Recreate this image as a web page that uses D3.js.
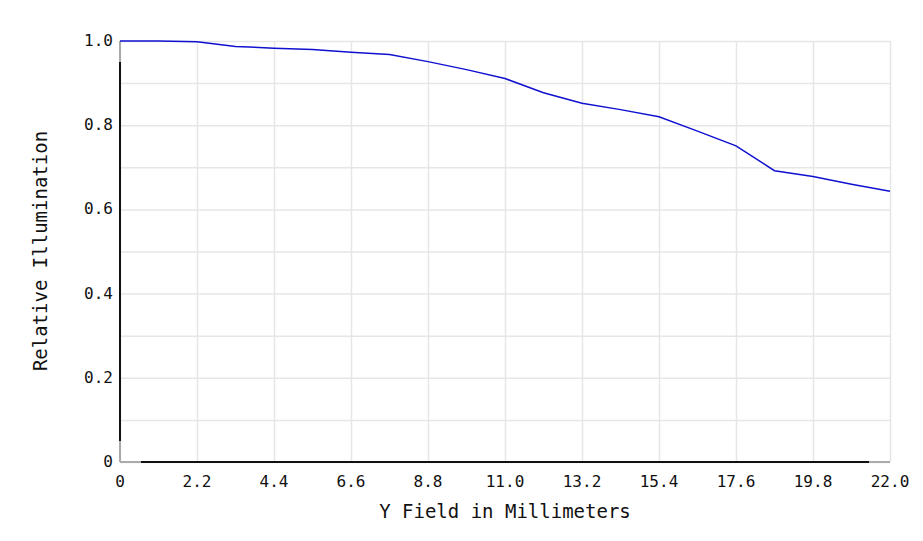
<!DOCTYPE html>
<html>
<head>
<meta charset="utf-8">
<title>Relative Illumination</title>
<script src="https://cdn.jsdelivr.net/npm/d3@7/dist/d3.min.js"></script>
<style>
  body { margin: 0; background: #fff; }
  svg text { font-family: "DejaVu Sans Mono", "Liberation Mono", monospace; fill: #111; }
  .grid line { stroke: #e6e6e6; stroke-width: 1.5; }
  .grid path { display: none; }
</style>
</head>
<body>
<svg width="923" height="541"></svg>
<script>
// field positions (mm) and relative illumination
var field = [0, 1.1, 2.2, 3.3, 4.4, 5.5, 6.6, 7.7, 8.8, 9.9, 11.0,
             12.1, 13.2, 14.3, 15.4, 16.5, 17.6, 18.7, 19.8, 20.9, 22.0];
var illum = [1.0, 1.0, 0.998, 0.987, 0.983, 0.980, 0.973, 0.968, 0.951, 0.932, 0.911,
             0.877, 0.852, 0.837, 0.820, 0.786, 0.751, 0.692, 0.678, 0.660, 0.643];
var xTicks = [0, 2.2, 4.4, 6.6, 8.8, 11.0, 13.2, 15.4, 17.6, 19.8, 22.0];
var yTicks = [0, 0.2, 0.4, 0.6, 0.8, 1.0];
var yGrid = [0, 0.1, 0.2, 0.3, 0.4, 0.5, 0.6, 0.7, 0.8, 0.9, 1.0];

var svg = d3.select("svg");

var x = d3.scaleLinear().domain([0, 22]).range([120, 890]);
var y = d3.scaleLinear().domain([0, 1]).range([462, 41]);

// grille
svg.append("g")
    .classed("grid", true)
    .attr("transform", "translate(0,462)")
    .call(d3.axisBottom(x).tickValues(xTicks).tickSize(-421).tickFormat(""));

svg.append("g")
    .classed("grid", true)
    .attr("transform", "translate(120,0)")
    .call(d3.axisLeft(y).tickValues(yGrid).tickSize(-770).tickFormat(""));

// axes : trait gris complet + trait noir un peu plus court
svg.append("line")
    .attr("x1", x(0)).attr("x2", x(22)).attr("y1", y(0)).attr("y2", y(0))
    .attr("stroke", "#aaa").attr("stroke-width", 2);
svg.append("line")
    .attr("x1", x(0.6)).attr("x2", x(21.4)).attr("y1", y(0)).attr("y2", y(0))
    .attr("stroke", "#111").attr("stroke-width", 2);
svg.append("line")
    .attr("x1", x(0)).attr("x2", x(0)).attr("y1", y(0)).attr("y2", y(1))
    .attr("stroke", "#aaa").attr("stroke-width", 2);
svg.append("line")
    .attr("x1", x(0)).attr("x2", x(0)).attr("y1", y(0.05)).attr("y2", y(0.95))
    .attr("stroke", "#111").attr("stroke-width", 2);

// étiquettes des graduations
svg.append("g")
    .selectAll("text")
    .data(xTicks)
    .enter()
    .append("text")
        .attr("x", function (d) { return x(d); })
        .attr("y", 487)
        .style("text-anchor", "middle")
        .style("font-size", "16px")
        .text(function (d) { return d === 0 ? "0" : d.toFixed(1); });

svg.append("g")
    .selectAll("text")
    .data(yTicks)
    .enter()
    .append("text")
        .attr("x", 113)
        .attr("y", function (d) { return y(d) + 5; })
        .style("text-anchor", "end")
        .style("font-size", "16px")
        .text(function (d) { return d === 0 ? "0" : d.toFixed(1); });

// titres des axes
svg.append("text")
    .attr("x", 505)
    .attr("y", 518)
    .style("text-anchor", "middle")
    .style("font-size", "19px")
    .text("Y Field in Millimeters");

svg.append("text")
    .attr("transform", "translate(47,251) rotate(-90)")
    .style("text-anchor", "middle")
    .style("font-size", "19px")
    .text("Relative Illumination");

// courbe
var ligne = d3.line()
    .x(function (d, i) { return x(field[i]); })
    .y(function (d) { return y(d); });

svg.append("path")
    .datum(illum)
    .attr("d", ligne)
    .attr("fill", "none")
    .attr("stroke", "#1010d0")
    .attr("stroke-width", 1.5);
</script>
</body>
</html>
